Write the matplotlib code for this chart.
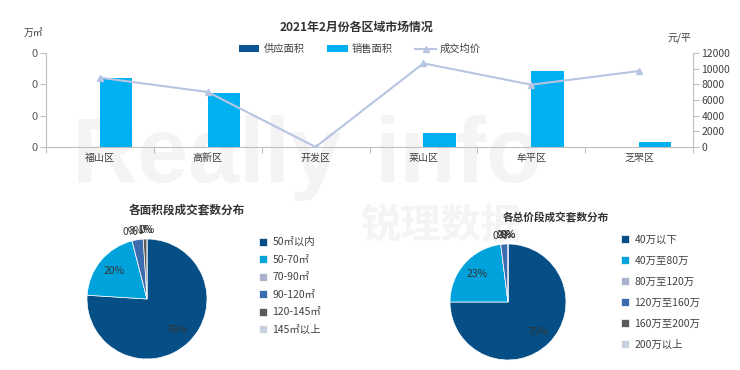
import matplotlib
matplotlib.use('Agg')
import matplotlib.pyplot as plt
import numpy as np

plt.rcParams['font.family'] = ['Noto Sans CJK SC', 'DejaVu Sans']

# 区域数据
districts = ['福山区', '高新区', '开发区', '莱山区', '牟平区', '芝罘区']
supply_area = [0, 0, 0, 0, 0, 0]
sales_area = [2.19, 1.72, 0, 0.44, 2.41, 0.17]
avg_price = [8850, 7020, 0, 10680, 7950, 9700]
left_ticks = [0, 1, 2, 3]
left_ticklabels = ['0', '0', '0', '0']
right_ticks = [0, 2000, 4000, 6000, 8000, 10000, 12000]

# 面积段
area_labels = ['50㎡以内', '50-70㎡', '70-90㎡', '90-120㎡', '120-145㎡', '145㎡以上']
area_counts = [76, 20, 0, 3, 1, 0]
# 总价段
price_labels = ['40万以下', '40万至80万', '80万至120万', '120万至160万', '160万至200万', '200万以上']
price_counts = [75, 23, 0, 2, 0, 0]

pie_colors = ['#054f86', '#00a2dc', '#a8b3cb', '#3c6cb0', '#5a5a5a', '#c8d1de']
W, H = 740, 370

fig = plt.figure(figsize=(7.4, 3.7), dpi=100)

# 水印
wm = '#f4f4f4'
fig.text(72 / W, 1 - 182 / H, 'Really', fontsize=66, fontweight='bold', color=wm,
         family='Liberation Sans', zorder=-5)
fig.text(375 / W, 1 - 182 / H, 'info', fontsize=66, fontweight='bold', color=wm,
         family='Liberation Sans', zorder=-5)
fig.text(360 / W, 1 - 226 / H, '锐理数据', fontsize=29, fontweight='bold', color=wm,
         va='center', zorder=-5)

# 柱状图 + 折线
ax = fig.add_axes([46 / W, 1 - 147 / H, (693 - 46) / W, (147 - 53) / H])
ax.set_facecolor('none')
x = np.arange(len(districts))
bw = 0.3
ax.bar(x - bw / 2, supply_area, bw, color='#0b5394', label='供应面积')
ax.bar(x + bw / 2, sales_area, bw, color='#00b0f0', label='销售面积')
ax.set_xlim(-0.5, len(districts) - 0.5)
ax.set_ylim(0, 3)
ax.set_yticks(left_ticks)
ax.set_yticklabels(left_ticklabels)
ax.set_xticks(np.arange(len(districts) + 1) - 0.5)
ax.set_xticklabels([])
ax.set_xticks(x, minor=True)
ax.set_xticklabels(districts, minor=True)
ax.tick_params(axis='x', which='minor', length=0, pad=4, labelsize=7.2, labelcolor='#404040')
ax.tick_params(axis='x', which='major', length=4, color='#bfbfbf', direction='out')
ax.tick_params(axis='y', length=4, color='#bfbfbf', labelsize=8, labelcolor='#595959', pad=2)
for s in ['top', 'right']:
    ax.spines[s].set_visible(False)
for s in ['left', 'bottom']:
    ax.spines[s].set_color('#bfbfbf')

ax2 = ax.twinx()
ax2.plot(x, avg_price, color='#b7c5e3', lw=1.5, marker='^', ms=5, label='成交均价')
ax2.set_ylim(0, 12000)
ax2.set_yticks(right_ticks)
ax2.tick_params(axis='y', length=4, color='#bfbfbf', labelsize=7.5, labelcolor='#404040', pad=2)
for s in ['top', 'left', 'bottom']:
    ax2.spines[s].set_visible(False)
ax2.spines['right'].set_color('#bfbfbf')

fig.text(356 / W, 1 - 27 / H, '2021年2月份各区域市场情况', ha='center', va='center',
         fontsize=8.6, fontweight='bold', color='#333333')
fig.text(24 / W, 1 - 33 / H, '万㎡', ha='left', va='center', fontsize=7, color='#404040')
fig.text(668 / W, 1 - 38 / H, '元/平', ha='left', va='center', fontsize=7.2, color='#404040')

h1, l1 = ax.get_legend_handles_labels()
h2, l2 = ax2.get_legend_handles_labels()
fig.legend(h1 + h2, l1 + l2, loc='center', bbox_to_anchor=(360 / W, 1 - 49 / H), ncol=3,
           frameon=False, fontsize=7.4, handlelength=2, columnspacing=2.2, handletextpad=0.4,
           labelcolor='#404040')


def draw_pie(cx, cy, r, counts, labels, title, tx, ty, tsize, lx, ly, lsp):
    pax = fig.add_axes([(cx - r) / W, 1 - (cy + r) / H, 2 * r / W, 2 * r / H])
    pax.set_facecolor('none')
    wedges, texts, autotexts = pax.pie(counts, colors=pie_colors, startangle=90, counterclock=False,
                                       autopct='%1.0f%%', pctdistance=0.72,
                                       wedgeprops=dict(edgecolor='white', linewidth=0.5),
                                       textprops=dict(fontsize=7.5, color='#333333'))
    tot = sum(counts)
    for w, t, c in zip(wedges, autotexts, counts):
        if c / tot < 0.05:
            ang = np.deg2rad((w.theta1 + w.theta2) / 2)
            t.set_position((1.12 * np.cos(ang), 1.15 * np.sin(ang)))
    pax.set_xlim(-1, 1)
    pax.set_ylim(-1, 1)
    fig.text(tx / W, 1 - ty / H, title, ha='center', va='center', fontsize=tsize,
             fontweight='bold', color='#333333')
    fig.legend(wedges, labels, loc='upper left', bbox_to_anchor=(lx / W, 1 - ly / H),
               frameon=False, fontsize=7.5, handlelength=0.8, handleheight=0.8,
               handletextpad=0.5, labelspacing=lsp, labelcolor='#404040', borderaxespad=0,
               borderpad=0)


draw_pie(147, 299, 60, area_counts, area_labels, '各面积段成交套数分布', 187, 210, 8.4,
         259, 237, 0.72)
draw_pie(508, 302, 58, price_counts, price_labels, '各总价段成交套数分布', 556, 217, 7.7,
         621, 235, 1.05)

fig.savefig('out.png', dpi=100)
